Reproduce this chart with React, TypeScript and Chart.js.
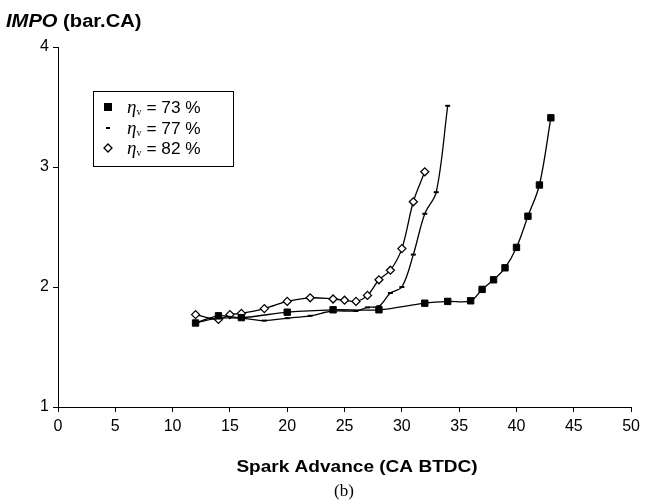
import React, { useEffect, useRef } from "react";
import { Chart, registerables } from "chart.js";

Chart.register(...registerables);

// Spark advance (CA BTDC) and IMPO (bar.CA) per volumetric efficiency
const sa73 = [12, 14, 16, 20, 24, 28, 32, 34, 36, 37, 38, 39, 40, 41, 42, 43];
const impo73 = [1.70, 1.76, 1.745, 1.79, 1.81, 1.81, 1.865, 1.88, 1.885, 1.98, 2.06, 2.16, 2.33, 2.59, 2.85, 3.41];

const sa77 = [12, 14, 16, 18, 20, 22, 24, 26, 27, 28, 29, 30, 31, 32, 33, 34];
const impo77 = [1.70, 1.74, 1.74, 1.72, 1.74, 1.76, 1.80, 1.80, 1.83, 1.84, 1.95, 2.00, 2.27, 2.61, 2.79, 3.51];

const sa82 = [12, 14, 15, 16, 18, 20, 22, 24, 25, 26, 27, 28, 29, 30, 31, 32];
const impo82 = [1.77, 1.73, 1.77, 1.78, 1.82, 1.88, 1.91, 1.90, 1.89, 1.88, 1.93, 2.06, 2.14, 2.32, 2.71, 2.96];

const seriesLabels = ["73 %", "77 %", "82 %"];
const yTitle = ["IMPO", " (bar.CA)"];
const xTitle = "Spark Advance (CA BTDC)";
const caption = "(b)";

const toPts = (xs: number[], ys: number[]) => xs.map((x, i) => ({ x, y: ys[i] }));

const SANS = "'Liberation Sans', Arial, sans-serif";
const SERIF = "'Liberation Serif', 'Times New Roman', serif";

const decorPlugin = {
  id: "decor",
  beforeDraw(chart: any) {
    const ctx = chart.ctx;
    ctx.save();
    ctx.fillStyle = "#fff";
    ctx.fillRect(0, 0, chart.width, chart.height);
    ctx.restore();
  },
  afterDraw(chart: any) {
    const ctx = chart.ctx;
    ctx.save();
    ctx.fillStyle = "#000";
    ctx.textBaseline = "alphabetic";

    // Y-axis title (top-left)
    ctx.save();
    ctx.translate(6, 27);
    ctx.scale(1.12, 1);
    ctx.textAlign = "left";
    ctx.font = `italic bold 18px ${SANS}`;
    ctx.fillText(yTitle[0], 0, 0);
    const w0 = ctx.measureText(yTitle[0]).width;
    ctx.font = `bold 18px ${SANS}`;
    ctx.fillText(yTitle[1], w0, 0);
    ctx.restore();

    // X-axis title
    ctx.save();
    ctx.translate(357, 472);
    ctx.scale(1.12, 1);
    ctx.textAlign = "center";
    ctx.font = `bold 17px ${SANS}`;
    ctx.fillText(xTitle, 0, 0);
    ctx.restore();

    // Caption
    ctx.textAlign = "center";
    ctx.font = `17px ${SERIF}`;
    ctx.fillText(caption, 344, 496);

    // Legend box
    const bx = 93, by = 91, bw = 140, bh = 75;
    ctx.strokeStyle = "#000";
    ctx.lineWidth = 1;
    ctx.strokeRect(bx + 0.5, by + 0.5, bw, bh);
    const rows = [107, 128, 148];
    const mx = 108;
    // square
    ctx.fillRect(mx - 4, rows[0] - 4, 8, 8);
    // dash
    ctx.fillRect(mx - 2, rows[1] - 1, 4, 2);
    // diamond
    ctx.beginPath();
    ctx.moveTo(mx, rows[2] - 4);
    ctx.lineTo(mx + 4, rows[2]);
    ctx.lineTo(mx, rows[2] + 4);
    ctx.lineTo(mx - 4, rows[2]);
    ctx.closePath();
    ctx.fillStyle = "#fff";
    ctx.fill();
    ctx.lineWidth = 1.3;
    ctx.stroke();
    ctx.fillStyle = "#000";
    ctx.textAlign = "left";
    rows.forEach((ry, i) => {
      const base = ry + 6;
      let x = 127;
      ctx.font = `italic 19px ${SERIF}`;
      ctx.fillText("\u03B7", x, base);
      x += ctx.measureText("\u03B7").width;
      ctx.font = `10px ${SERIF}`;
      ctx.fillText("v", x, base + 2);
      x += ctx.measureText("v").width + 5;
      ctx.save();
      ctx.translate(x, base);
      ctx.scale(1.08, 1);
      ctx.font = `16px ${SANS}`;
      ctx.fillText("= " + seriesLabels[i], 0, 0);
      ctx.restore();
    });
    ctx.restore();
  },
};

export default function App() {
  const ref = useRef<HTMLCanvasElement | null>(null);

  useEffect(() => {
    if (!ref.current) return;
    const common = {
      showLine: true,
      borderColor: "#000",
      borderWidth: 1.3,
      tension: 0.35,
      fill: false,
    };
    const chart = new Chart(ref.current, {
      type: "scatter",
      data: {
        datasets: [
          {
            ...common,
            label: "73 %",
            data: toPts(sa73, impo73),
            pointStyle: "rect",
            pointRadius: 4.5,
            pointBackgroundColor: "#000",
            pointBorderColor: "#000",
            pointBorderWidth: 1,
          },
          {
            ...common,
            label: "77 %",
            data: toPts(sa77, impo77),
            pointStyle: "line",
            pointRadius: 2.5,
            pointBorderColor: "#000",
            pointBorderWidth: 2,
          },
          {
            ...common,
            label: "82 %",
            data: toPts(sa82, impo82),
            pointStyle: "rectRot",
            pointRadius: 4,
            pointBackgroundColor: "#fff",
            pointBorderColor: "#000",
            pointBorderWidth: 1.3,
          },
        ],
      },
      options: {
        responsive: false,
        animation: false,
        devicePixelRatio: 1,
        layout: { padding: { left: 0, top: 47, right: 12, bottom: 0 } },
        plugins: {
          legend: { display: false },
          tooltip: { enabled: false },
          title: { display: false },
        },
        scales: {
          x: {
            type: "linear",
            min: 0,
            max: 50,
            ticks: { stepSize: 5, color: "#000", font: { family: SANS, size: 16 }, padding: 5, maxRotation: 0 },
            grid: { drawOnChartArea: false, tickLength: 5, color: "#000" },
            border: { color: "#000", width: 1 },
            afterFit: (s: any) => { s.height = 97; },
          },
          y: {
            type: "linear",
            min: 1,
            max: 4,
            ticks: { stepSize: 1, color: "#000", font: { family: SANS, size: 16 }, padding: 4 },
            grid: { drawOnChartArea: false, tickLength: 5, color: "#000" },
            border: { color: "#000", width: 1 },
            afterFit: (s: any) => { s.width = 58; },
          },
        },
      },
      plugins: [decorPlugin],
    } as any);
    return () => chart.destroy();
  }, []);

  return (
    <div style={{ position: "absolute", left: 0, top: 0, width: 645, height: 504 }}>
      <canvas ref={ref} width={645} height={504} style={{ display: "block", width: 645, height: 504 }} />
    </div>
  );
}
